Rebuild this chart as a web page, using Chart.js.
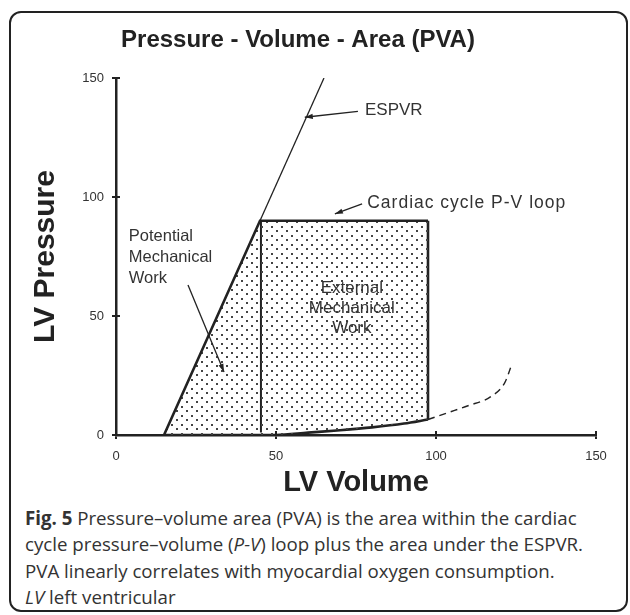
<!DOCTYPE html>
<html>
<head>
<meta charset="utf-8">
<script src="https://cdn.jsdelivr.net/npm/chart.js@4.4.1/dist/chart.umd.min.js"></script>
<style>
  body { margin: 0; background: #fff; }
  #frame {
    position: absolute; left: 9px; top: 11px; width: 619px; height: 601px;
    box-sizing: border-box; border: 2px solid #222; border-radius: 12px;
  }
  #chart { position: absolute; left: 0; top: 0; }
  #caption {
    position: absolute; left: 25px; top: 505px; white-space: nowrap;
    font-family: "Open Sans", sans-serif; font-size: 18.7px; line-height: 26.3px;
    color: #333;
  }
</style>
</head>
<body>
<div id="frame"></div>
<canvas id="chart" width="630" height="500"></canvas>
<div id="caption">
  <b>Fig. 5</b> Pressure–volume area (PVA) is the area within the cardiac<br>
  cycle pressure–volume (<i>P-V</i>) loop plus the area under the ESPVR.<br>
  PVA linearly correlates with myocardial oxygen consumption.<br>
  <i>LV</i> left ventricular
</div>
<script>
// data (LV volume vs LV pressure)
const xTicks = [0, 50, 100, 150];
const yTicks = [0, 50, 100, 150];

const espvrX = [45, 65];
const espvrY = [90, 150];

const loopTopX = [15, 45, 97.5];
const loopTopY = [0, 90, 90];

const loopBottomX = [15, 50, 60, 70, 80, 90, 97.5];
const loopBottomY = [0, 0, 1, 2, 3.2, 4.8, 6.5];

const loopRightX = [97.5, 97.5];
const loopRightY = [90, 6.5];

const ejectX = [45.3, 45.3];
const ejectY = [90, 1];

const edpvrX = [97.5, 104, 110, 117, 121.5, 123.5];
const edpvrY = [6.5, 9.5, 12.3, 16, 22, 29];

// labels and arrows, in data coordinates
const labels = [
  { text: ["ESPVR"], x: 77.8, y: 136.5, align: "left", size: 17 },
  { text: ["Cardiac cycle P-V loop"], x: 78.5, y: 97.5, align: "left", size: 17.5, spacing: 1 },
  { text: ["Potential", "Mechanical", "Work"], x: 4, y: 83.5, align: "left", size: 16.5, gap: 21 },
  { text: ["External", "Mechanical", "Work"], x: 73.7, y: 61.5, align: "center", size: 17, gap: 20 }
];
const arrows = [
  { from: [75.6, 136], to: [59, 133.5] },
  { from: [76.9, 97.1], to: [68.4, 92.9] },
  { from: [22.5, 63], to: [33.75, 26.5] }
];

const pts = (xs, ys) => xs.map((v, i) => ({ x: v, y: ys[i] }));

// dotted fill pattern
function dots() {
  const c = document.createElement("canvas");
  c.width = 10; c.height = 9;
  const g = c.getContext("2d");
  g.fillStyle = "#444";
  g.fillRect(1, 1, 2, 2);
  g.fillRect(6, 5, 2, 2);
  return g.createPattern(c, "repeat");
}

const ink = "#222";

const annotate = {
  id: "annotate",
  afterDatasetsDraw(chart) {
    const { ctx, scales: { x, y } } = chart;
    ctx.save();
    ctx.fillStyle = "#333";
    ctx.textBaseline = "middle";
    labels.forEach(l => {
      ctx.font = l.size + 'px "Liberation Sans", Arial, sans-serif';
      ctx.letterSpacing = (l.spacing || 0) + "px";
      ctx.textAlign = l.align;
      l.text.forEach((t, i) => {
        ctx.fillText(t, x.getPixelForValue(l.x), y.getPixelForValue(l.y) + i * (l.gap || 0));
      });
    });
    ctx.letterSpacing = "0px";

    ctx.strokeStyle = ink;
    ctx.fillStyle = ink;
    ctx.lineWidth = 1.3;
    arrows.forEach(a => {
      const x0 = x.getPixelForValue(a.from[0]), y0 = y.getPixelForValue(a.from[1]);
      const x1 = x.getPixelForValue(a.to[0]), y1 = y.getPixelForValue(a.to[1]);
      const ang = Math.atan2(y1 - y0, x1 - x0);
      ctx.beginPath();
      ctx.moveTo(x0, y0);
      ctx.lineTo(x1, y1);
      ctx.stroke();
      ctx.beginPath();
      ctx.moveTo(x1, y1);
      ctx.lineTo(x1 - 8 * Math.cos(ang) + 2.6 * Math.sin(ang), y1 - 8 * Math.sin(ang) - 2.6 * Math.cos(ang));
      ctx.lineTo(x1 - 8 * Math.cos(ang) - 2.6 * Math.sin(ang), y1 - 8 * Math.sin(ang) + 2.6 * Math.cos(ang));
      ctx.closePath();
      ctx.fill();
    });
    ctx.restore();
  },
  afterDraw(chart) {
    // inner half of the crossing tick marks
    const { ctx, chartArea: a, scales: { x, y } } = chart;
    ctx.save();
    ctx.strokeStyle = ink;
    ctx.lineWidth = 2;
    ctx.beginPath();
    xTicks.slice(1).forEach(v => {
      const px = x.getPixelForValue(v);
      ctx.moveTo(px, a.bottom);
      ctx.lineTo(px, a.bottom - 4);
    });
    yTicks.forEach(v => {
      const py = y.getPixelForValue(v);
      ctx.moveTo(a.left, py);
      ctx.lineTo(a.left + 4, py);
    });
    ctx.stroke();
    ctx.restore();
  }
};

const tickFont = { family: '"Liberation Sans", Arial, sans-serif', size: 13 };

new Chart(document.getElementById("chart"), {
  type: "scatter",
  data: {
    datasets: [
      { data: pts(espvrX, espvrY), borderColor: ink, borderWidth: 1.3 },
      { data: pts(loopTopX, loopTopY), borderColor: ink, borderWidth: 2.6, fill: "+1", backgroundColor: dots() },
      { data: pts(loopBottomX, loopBottomY), borderColor: ink, borderWidth: 2.6, cubicInterpolationMode: "monotone" },
      { data: pts(loopRightX, loopRightY), borderColor: ink, borderWidth: 2.6 },
      { data: pts(ejectX, ejectY), borderColor: ink, borderWidth: 2 },
      { data: pts(edpvrX, edpvrY), borderColor: ink, borderWidth: 1.4, borderDash: [7, 5], cubicInterpolationMode: "monotone" }
    ].map(d => Object.assign({ showLine: true, pointRadius: 0, fill: false }, d))
  },
  options: {
    responsive: false,
    animation: false,
    layout: { padding: { left: 0, right: 34, top: 0, bottom: 0 } },
    plugins: {
      legend: { display: false },
      tooltip: { enabled: false },
      title: {
        display: true,
        text: "Pressure - Volume - Area (PVA)",
        color: ink,
        font: { family: '"Liberation Sans", Arial, sans-serif', size: 24, weight: "bold", lineHeight: 1.2 },
        padding: { top: 25.5, bottom: 23.7 }
      }
    },
    scales: {
      x: {
        type: "linear", min: 0, max: 150,
        afterBuildTicks: s => { s.ticks = xTicks.map(v => ({ value: v })); },
        afterFit: s => { s.height = 65; },
        border: { color: ink, width: 2.5 },
        grid: { drawOnChartArea: false, drawTicks: true, tickLength: 4, color: ink, lineWidth: 2 },
        ticks: { color: "#333", font: tickFont, padding: 10, maxRotation: 0 },
        title: {
          display: true, text: "LV Volume", color: ink,
          font: { family: '"Liberation Sans", Arial, sans-serif', size: 29, weight: "bold", lineHeight: 1 },
          padding: { top: 0, bottom: 3 }
        }
      },
      y: {
        type: "linear", min: 0, max: 150,
        afterBuildTicks: s => { s.ticks = yTicks.map(v => ({ value: v })); },
        afterFit: s => { s.width = 116; },
        border: { color: ink, width: 2.5 },
        grid: { drawOnChartArea: false, drawTicks: true, tickLength: 4, color: ink, lineWidth: 2 },
        ticks: { color: "#333", font: tickFont, padding: 8 },
        title: {
          display: true, text: "LV Pressure", color: ink,
          font: { family: '"Liberation Sans", Arial, sans-serif', size: 30, weight: "bold", lineHeight: 1 },
          padding: { top: 31, bottom: 0 }
        }
      }
    }
  },
  plugins: [annotate]
});
</script>
</body>
</html>
